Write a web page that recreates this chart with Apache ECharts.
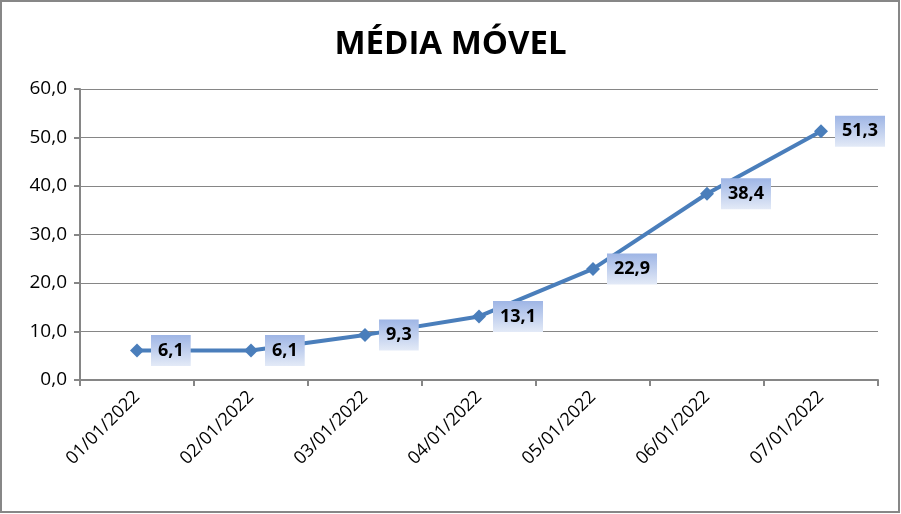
<!DOCTYPE html>
<html><head><meta charset="utf-8">
<script src="https://cdn.jsdelivr.net/npm/echarts@6/dist/echarts.min.js"></script>
<style>html,body{margin:0;padding:0;background:#fff}#c{width:901px;height:514px}</style>
</head><body><div id="c"></div>
<script>
const categories = ['01/01/2022','02/01/2022','03/01/2022','04/01/2022','05/01/2022','06/01/2022','07/01/2022'];
const values = [6.1, 6.1, 9.3, 13.1, 22.9, 38.4, 51.3];
const titleText = 'MÉDIA MÓVEL';
const fmt = v => v.toFixed(1).replace('.', ',');
const chart = echarts.init(document.getElementById('c'));
chart.setOption({
  animation: false,
  backgroundColor: '#fff',
  textStyle: { fontFamily: '"Open Sans", "Liberation Sans", sans-serif' },
  title: { text: titleText, left: 'center', top: 23,
    textStyle: { fontSize: 33, fontWeight: 'bold', color: '#000', fontFamily: '"Open Sans", sans-serif' } },
  graphic: [{ type: 'rect', shape: { x: 1, y: 1, width: 898, height: 511 }, style: { fill: 'none', stroke: '#878787', lineWidth: 2 }, silent: true }],
  grid: { left: 80, right: 23, top: 89, bottom: 134 },
  xAxis: { type: 'category', data: categories, boundaryGap: true,
    axisLine: { lineStyle: { color: '#868686', width: 2 } },
    axisTick: { show: true, alignWithLabel: false, length: 6, lineStyle: { color: '#868686', width: 2 } },
    axisLabel: { rotate: 45, fontSize: 18, color: '#000', margin: 14, interval: 0 } },
  yAxis: { type: 'value', min: 0, max: 60, interval: 10,
    axisLine: { show: true, lineStyle: { color: '#868686', width: 2 } },
    axisTick: { show: true, length: 6, lineStyle: { color: '#868686', width: 2 } },
    axisLabel: { fontSize: 19, color: '#000', margin: 13, formatter: v => fmt(v) },
    splitLine: { lineStyle: { color: '#868686', width: 1 } } },
  series: [{ type: 'line', data: values, symbol: 'diamond', symbolSize: 14,
    lineStyle: { color: '#4a7ebb', width: 4 }, itemStyle: { color: '#4a7ebb' },
    label: { show: true, position: 'right', distance: 7, formatter: p => fmt(p.value),
      fontSize: 18, lineHeight: 18, fontWeight: 'bold', color: '#000', padding: [7, 7, 6, 7],
      backgroundColor: { type: 'linear', x: 0, y: 0, x2: 0, y2: 1,
        colorStops: [{ offset: 0, color: '#9eb5e5' }, { offset: 1, color: '#e3eaf7' }] } } }]
});
</script></body></html>
